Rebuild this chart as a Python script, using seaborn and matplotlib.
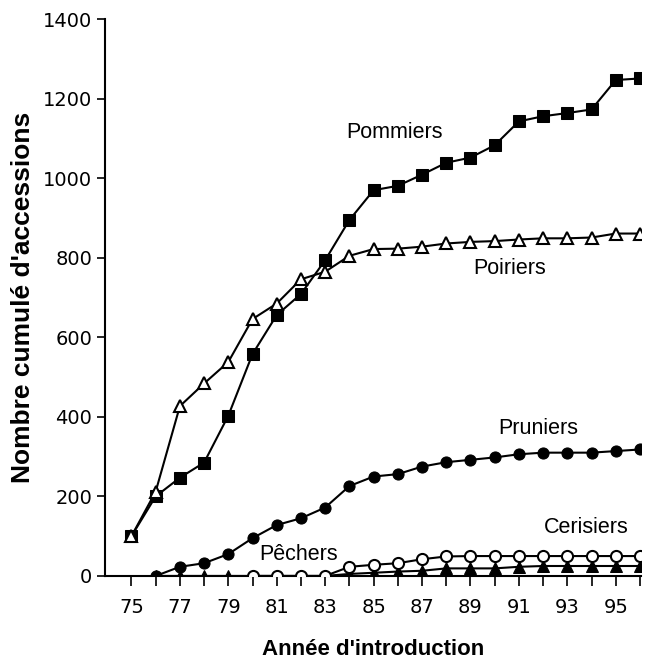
import matplotlib
matplotlib.use("Agg")
import matplotlib.pyplot as plt
import seaborn as sns
import pandas as pd

years_pom = list(range(75, 97))
pommiers = [100, 200, 247, 285, 403, 558, 656, 709, 794, 895, 970, 981, 1009, 1039,
            1052, 1083, 1143, 1156, 1164, 1173, 1247, 1251]
years_poi = list(range(75, 97))
poiriers = [100, 212, 427, 484, 538, 646, 685, 746, 765, 805, 822, 823, 828, 836,
            840, 842, 846, 849, 849, 851, 861, 861]
years_pru = list(range(76, 97))
pruniers = [0, 23, 32, 55, 95, 128, 145, 172, 226, 250, 256, 275, 286, 292, 298,
            306, 310, 310, 310, 314, 318]
years_pec = list(range(76, 97))
pechers = [0, 0, 0, 0, 0, 0, 0, 0, 5, 8, 11, 13, 19, 19, 19, 23, 25, 25, 25, 25, 25]
years_cer = list(range(80, 97))
cerisiers = [0, 0, 0, 0, 23, 28, 32, 42, 49, 50, 50, 50, 50, 50, 50, 50, 50]

xticks = list(range(75, 97))
xticklabels = [str(y) if y % 2 == 1 else "" for y in xticks]
yticks = [0, 200, 400, 600, 800, 1000, 1200, 1400]

sns.set_style("ticks")
plt.rcParams["font.family"] = ["Liberation Sans", "DejaVu Sans"]
plt.rcParams["text.color"] = "black"
plt.rcParams["axes.labelcolor"] = "black"
plt.rcParams["xtick.color"] = "black"
plt.rcParams["ytick.color"] = "black"

fig = plt.figure(figsize=(6.47, 6.62), dpi=100)
ax = fig.add_axes([0.162, 0.130, 0.829, 0.841])

lw = 1.5
sns.lineplot(x=years_pec, y=pechers, ax=ax, color="black", lw=lw, marker="^",
             markersize=8, markerfacecolor="black", markeredgecolor="black", zorder=3)
sns.lineplot(x=years_cer, y=cerisiers, ax=ax, color="black", lw=lw, marker="o",
             markersize=8, markerfacecolor="white", markeredgecolor="black",
             markeredgewidth=1.5, zorder=4)
sns.lineplot(x=years_pru, y=pruniers, ax=ax, color="black", lw=lw, marker="o",
             markersize=8, markerfacecolor="black", markeredgecolor="black", zorder=5)
sns.lineplot(x=years_pom, y=pommiers, ax=ax, color="black", lw=lw, marker="s",
             markersize=8, markerfacecolor="black", markeredgecolor="black", zorder=6)
sns.lineplot(x=years_poi, y=poiriers, ax=ax, color="black", lw=lw, marker="^",
             markersize=9, markerfacecolor="white", markeredgecolor="black",
             markeredgewidth=1.5, zorder=7)

lab_fs = 15.5
ax.text(85.85, 1116, "Pommiers", fontsize=lab_fs, ha="center", va="center", color="black")
ax.text(90.6, 774, "Poiriers", fontsize=lab_fs, ha="center", va="center", color="black")
ax.text(91.8, 372, "Pruniers", fontsize=lab_fs, ha="center", va="center", color="black")
ax.text(93.8, 121, "Cerisiers", fontsize=lab_fs, ha="center", va="center", color="black")
ax.text(81.9, 53, "Pêchers", fontsize=lab_fs, ha="center", va="center", color="black")

ax.set_xlim(73.9, 96.05)
ax.set_ylim(0, 1400)
ax.set_xticks(xticks)
ax.set_xticklabels(xticklabels)
ax.set_yticks(yticks)
ax.tick_params(axis="both", direction="out", labelsize=14, width=1.2, color="black",
               labelcolor="black")
ax.tick_params(axis="x", length=7, pad=9)
ax.tick_params(axis="y", length=6, pad=3)
for s in ["left", "bottom"]:
    ax.spines[s].set_linewidth(1.5)
    ax.spines[s].set_color("black")
sns.despine(ax=ax)

ax.set_xlabel("Année d'introduction", fontsize=16, fontweight="bold", labelpad=16,
              color="black")
ax.set_ylabel("Nombre cumulé d'accessions", fontsize=19, fontweight="bold", labelpad=6,
              color="black")
for t in ax.get_xticklabels() + ax.get_yticklabels():
    t.set_family(["DejaVu Sans"])

fig.savefig("out.png", dpi=100)
